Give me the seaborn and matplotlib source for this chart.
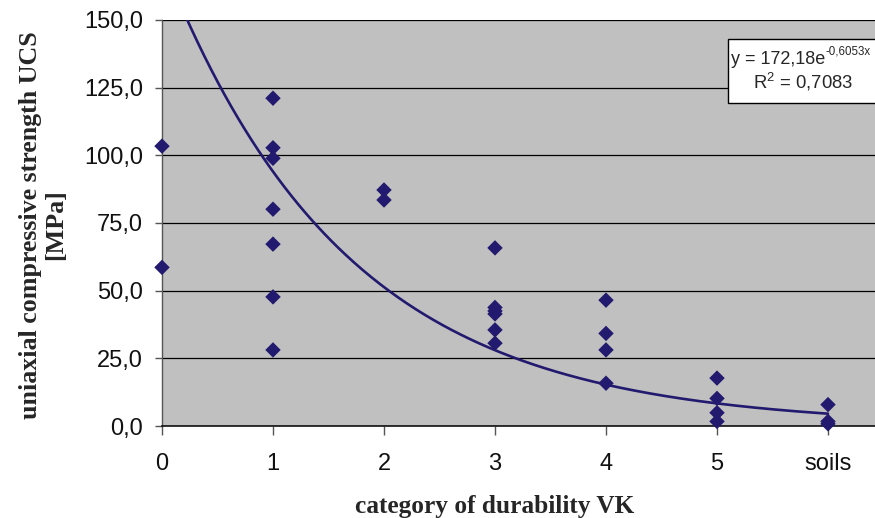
import numpy as np
import pandas as pd
import matplotlib
matplotlib.use("Agg")
import matplotlib.pyplot as plt
from matplotlib.patches import Rectangle
import seaborn as sns

# ---- data ----
categories = ["0", "1", "2", "3", "4", "5", "soils"]
cat_pos = [0, 0,
           1, 1, 1, 1, 1, 1, 1,
           2, 2,
           3, 3, 3, 3, 3, 3,
           4, 4, 4, 4,
           5, 5, 5, 5,
           6, 6, 6]
ucs_values = [103.4, 58.6,
              121.1, 102.8, 98.9, 80.1, 67.2, 47.7, 28.1,
              87.2, 83.5,
              65.8, 43.8, 42.5, 41.4, 35.5, 30.6,
              46.5, 34.2, 28.1, 15.8,
              17.7, 10.2, 4.9, 1.7,
              7.9, 1.7, 0.8]
fit_a = 172.18
fit_b = -0.6053
y_ticks = [0, 25, 50, 75, 100, 125, 150]
y_tick_labels = ["0,0", "25,0", "50,0", "75,0", "100,0", "125,0", "150,0"]

df = pd.DataFrame({"cat": cat_pos, "ucs": ucs_values})
x_fit = np.linspace(0, 6, 300)
fit_df = pd.DataFrame({"x": x_fit, "y": fit_a * np.exp(fit_b * x_fit)})

sns.set_style("white")
plt.rcParams["font.family"] = ["Liberation Sans", "DejaVu Sans"]
plt.rcParams["mathtext.fontset"] = "custom"
plt.rcParams["mathtext.rm"] = "Liberation Sans"
plt.rcParams["mathtext.it"] = "Liberation Sans"

W, H = 875, 518
fig = plt.figure(figsize=(W / 100, H / 100), dpi=100)
ax = fig.add_axes([162 / W, 1 - 426 / H, 713 / W, 406 / H])
ax.set_facecolor("#C0C0C0")

navy = "#221A6E"
sns.lineplot(data=fit_df, x="x", y="y", ax=ax, color=navy, linewidth=1.9, zorder=3)
sns.scatterplot(data=df, x="cat", y="ucs", ax=ax, marker="D", s=62,
                color=navy, edgecolor="none", zorder=4, clip_on=False)

ax.set_xlim(0, 713 / 111)
ax.set_ylim(0, 150)
ax.set_yticks(y_ticks)
ax.set_yticklabels(y_tick_labels, fontsize=17, color="#111111")
ax.set_xticks(range(len(categories)))
ax.set_xticklabels(categories, fontsize=17, color="#111111")
ax.set_xlabel("")
ax.set_ylabel("")
ax.yaxis.grid(True, color="#000000", linewidth=0.9)
ax.set_axisbelow(True)
ax.tick_params(axis="y", direction="out", length=5, width=1, color="#555555",
               left=True, pad=8.5)
ax.tick_params(axis="x", direction="out", length=6.5, width=1, color="#555555",
               bottom=True, pad=13)

for s in ["top", "right"]:
    ax.spines[s].set_visible(False)
ax.spines["left"].set_color("#555555")
ax.spines["bottom"].set_color("#111111")
ax.spines["left"].set_linewidth(1)
ax.spines["bottom"].set_linewidth(1.2)

fig.text(495 / W, 1 - 507 / H, "category of durability VK", family="Liberation Serif",
         fontweight="bold", fontsize=18.3, ha="center", va="center")
fig.text(43 / W, 1 - 225 / H, "uniaxial compressive strength UCS\n[MPa]",
         family="Liberation Serif", fontweight="bold", fontsize=18.7,
         ha="center", va="center", rotation=90, multialignment="center",
         linespacing=1.1)

# equation box
fig.patches.append(Rectangle((728 / W, 1 - 103 / H), 200 / W, 64 / H,
                             transform=fig.transFigure, facecolor="white",
                             edgecolor="black", linewidth=1.0, zorder=5))
main = fig.text(731 / W, 1 - 59 / H, "y = 172,18e", fontsize=13,
                ha="left", va="center", zorder=6)
renderer = fig.canvas.get_renderer()
bb = main.get_window_extent(renderer=renderer)
fig.text(bb.x1 / W + 0.5 / W, 1 - 52 / H, "-0,6053x", fontsize=8.3,
         ha="left", va="center", zorder=6)
fig.text(803 / W, 1 - 82 / H, "R$^{2}$ = 0,7083", fontsize=13.3,
         ha="center", va="center", zorder=6)

fig.savefig("out.png", dpi=100)
